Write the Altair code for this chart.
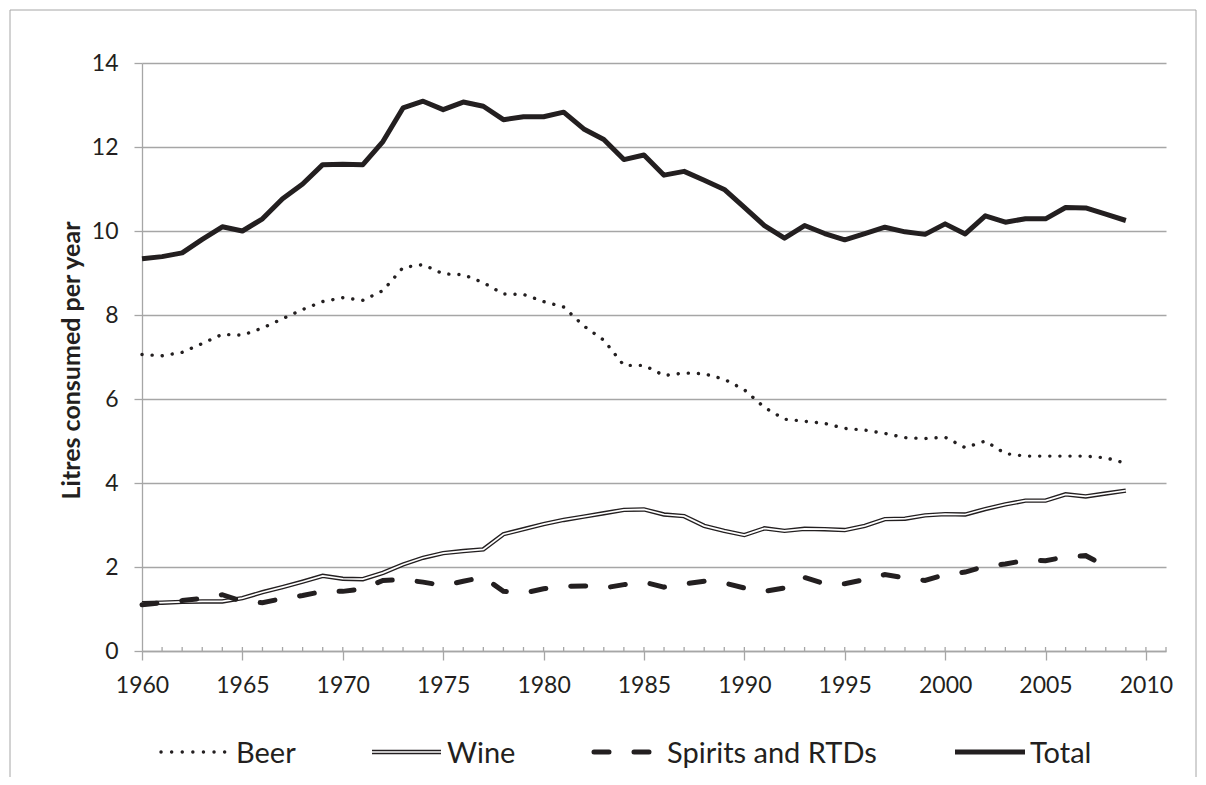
import altair as alt
import pandas as pd

# ---------------- data (litres consumed per year) ----------------
years = list(range(1960, 2010))
beer = [7.06, 7.03, 7.11, 7.32, 7.54, 7.52, 7.69, 7.91, 8.13, 8.32,
        8.41, 8.35, 8.58, 9.13, 9.20, 8.98, 8.96, 8.77, 8.50, 8.49,
        8.32, 8.19, 7.74, 7.40, 6.80, 6.80, 6.56, 6.62, 6.60, 6.47,
        6.22, 5.80, 5.52, 5.47, 5.42, 5.30, 5.26, 5.18, 5.08, 5.06,
        5.09, 4.84, 5.00, 4.70, 4.64, 4.64, 4.64, 4.64, 4.60, 4.47]
wine = [1.14, 1.15, 1.17, 1.18, 1.18, 1.26, 1.40, 1.52, 1.65, 1.79,
        1.72, 1.71, 1.86, 2.06, 2.22, 2.33, 2.38, 2.42, 2.78, 2.90,
        3.02, 3.12, 3.20, 3.28, 3.36, 3.37, 3.25, 3.21, 2.98, 2.86,
        2.76, 2.92, 2.86, 2.91, 2.90, 2.88, 2.98, 3.14, 3.15, 3.23,
        3.26, 3.25, 3.38, 3.49, 3.58, 3.58, 3.73, 3.68, 3.75, 3.82]
spirits_years = list(range(1960, 2009))
spirits = [1.10, 1.15, 1.20, 1.25, 1.34, 1.18, 1.15, 1.25, 1.32, 1.42,
           1.42, 1.48, 1.68, 1.70, 1.64, 1.56, 1.66, 1.76, 1.42, 1.38,
           1.48, 1.54, 1.55, 1.50, 1.58, 1.64, 1.52, 1.60, 1.66, 1.62,
           1.50, 1.42, 1.50, 1.75, 1.60, 1.60, 1.70, 1.82, 1.74, 1.68,
           1.82, 1.88, 2.02, 2.07, 2.16, 2.15, 2.24, 2.27, 2.02]
total = [9.34, 9.39, 9.48, 9.80, 10.10, 10.00, 10.29, 10.77, 11.12, 11.58,
         11.59, 11.58, 12.13, 12.93, 13.09, 12.89, 13.07, 12.97, 12.65, 12.72,
         12.72, 12.83, 12.43, 12.18, 11.70, 11.81, 11.33, 11.42, 11.21, 10.99,
         10.56, 10.13, 9.83, 10.13, 9.94, 9.79, 9.94, 10.09, 9.98, 9.92,
         10.17, 9.93, 10.36, 10.21, 10.29, 10.29, 10.56, 10.55, 10.40, 10.25]

x_ticks = list(range(1960, 2011, 5))
minor_years = list(range(1961, 2012))
y_ticks = list(range(0, 15, 2))
legend_names = ["Beer", "Wine", "Spirits and RTDs", "Total"]
y_title = "Litres consumed per year"

# ---------------- styling ----------------
FONT = "Lato"
INK = "#231f20"
GRID = "#a6a6a6"
W, H = 1024, 588
PAD_L, PAD_T = 134, 55

df_beer = pd.DataFrame({"year": years, "v": beer})
df_wine = pd.DataFrame({"year": years, "v": wine})
df_spirits = pd.DataFrame({"year": spirits_years, "v": spirits})
df_total = pd.DataFrame({"year": years, "v": total})
df_minor = pd.DataFrame({"year": minor_years})

xscale = alt.Scale(domain=[1960, 2011], nice=False, zero=False)
yscale = alt.Scale(domain=[0, 14], nice=False)

x_axis = alt.Axis(values=x_ticks, format="d", tickSize=9, tickColor=GRID, tickWidth=1.3,
                  domainColor=GRID, domainWidth=1.3, grid=False, labelFont=FONT,
                  labelFontSize=23, labelColor=INK, labelPadding=14, title=None,
                  labelFlush=False)
y_axis = alt.Axis(values=y_ticks, tickSize=8, tickColor=GRID, tickWidth=1.3,
                  domainColor=GRID, domainWidth=1.3, grid=True, gridColor=GRID,
                  gridWidth=1.3, labelFont=FONT, labelFontSize=23, labelColor=INK,
                  labelPadding=16, title=y_title, titleFont=FONT, titleFontSize=25,
                  titleFontWeight="bold", titleColor=INK, titleAngle=270,
                  titleX=-71, titleY=H / 2 + 3, titleAlign="center", titleBaseline="middle")

X = alt.X("year:Q", scale=xscale, axis=x_axis)
Y = alt.Y("v:Q", scale=yscale, axis=y_axis)

beer_line = alt.Chart(df_beer).mark_line(color=INK, strokeWidth=3.4, strokeDash=[0.1, 10],
                                         strokeCap="round").encode(x=X, y=Y)
wine_outer = alt.Chart(df_wine).mark_line(color=INK, strokeWidth=4.4).encode(x=X, y=Y)
wine_inner = alt.Chart(df_wine).mark_line(color="white", strokeWidth=1.7).encode(x=X, y=Y)
spirits_line = alt.Chart(df_spirits).mark_line(color=INK, strokeWidth=5, strokeDash=[15, 25],
                                               strokeCap="round").encode(x=X, y=Y)
total_line = alt.Chart(df_total).mark_line(color=INK, strokeWidth=5,
                                           strokeJoin="round").encode(x=X, y=Y)

minor_ticks = alt.Chart(df_minor).mark_rule(color=GRID, strokeWidth=1.3).encode(
    x=X, y=alt.value(H), y2=alt.value(H - 4))

# ---------------- outer frame ----------------
fl, ft, fr, fb = 10 - 8 - PAD_L, 10 - 8 - PAD_T, 1196 - 8 - PAD_L, 800 - 8 - PAD_T
frame_df = pd.DataFrame({"k": [0]})
frame = alt.layer(
    alt.Chart(frame_df).mark_rule(color=GRID, strokeWidth=1).encode(
        x=alt.value(fl), y=alt.value(ft), y2=alt.value(fb)),
    alt.Chart(frame_df).mark_rule(color=GRID, strokeWidth=1).encode(
        x=alt.value(fl), x2=alt.value(fr), y=alt.value(ft)),
    alt.Chart(frame_df).mark_rule(color=GRID, strokeWidth=1).encode(
        x=alt.value(fr), y=alt.value(ft), y2=alt.value(fb)),
)

# ---------------- custom legend ----------------
LY = 752 - 8 - PAD_T
def rel(px):
    return px - 8 - PAD_L

def sample(x1, x2, **kw):
    return alt.Chart(frame_df).mark_rule(**kw).encode(
        x=alt.value(rel(x1)), x2=alt.value(rel(x2)), y=alt.value(LY))

def label(x, text):
    return alt.Chart(frame_df).mark_text(align="left", baseline="alphabetic", font=FONT,
                                         fontSize=29, color=INK, text=text).encode(
        x=alt.value(rel(x)), y=alt.value(LY + 11))

legend = alt.layer(
    sample(161, 225, color=INK, strokeWidth=3.4, strokeDash=[0.1, 10.5], strokeCap="round"),
    label(236, legend_names[0]),
    sample(372, 441, color=INK, strokeWidth=4.4),
    sample(372, 441, color="white", strokeWidth=1.7),
    label(447, legend_names[1]),
    sample(594, 650, color=INK, strokeWidth=5, strokeDash=[15, 25], strokeCap="round"),
    label(667, legend_names[2]),
    sample(955, 1025, color=INK, strokeWidth=5),
    label(1030, legend_names[3]),
)

chart = alt.layer(
    minor_ticks, beer_line, wine_outer, wine_inner, spirits_line, total_line, frame, legend
).properties(
    width=W, height=H,
    autosize=alt.AutoSizeParams(type="none"),
    padding={"left": PAD_L, "top": PAD_T, "right": 1206 - 16 - PAD_L - W, "bottom": 777 - PAD_T - H - 8},
    background="white",
).configure_view(stroke=None)

chart.save("out.html", embed_options={"renderer": "svg", "actions": False})
